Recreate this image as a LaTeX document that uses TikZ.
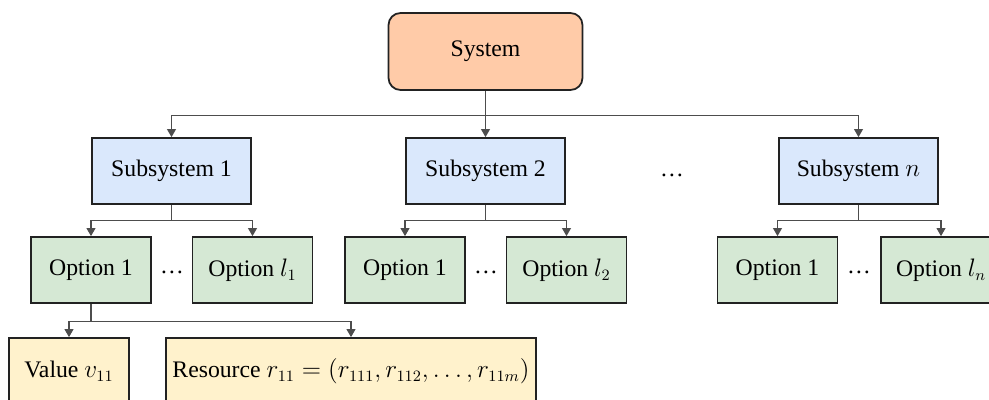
\documentclass[tikz,border=0pt]{standalone}
\usepackage{fontspec}
\setmainfont{Liberation Serif}
\usetikzlibrary{arrows.meta}
\definecolor{sysfill}{HTML}{FFCBA8}
\definecolor{subfill}{HTML}{DAE8FC}
\definecolor{optfill}{HTML}{D5E8D4}
\definecolor{valfill}{HTML}{FFF2CC}
\definecolor{boxline}{HTML}{222222}
\definecolor{linkline}{HTML}{4D4D4D}
\tikzset{
  box/.style={draw=boxline, line width=1pt, minimum height=1.32cm, inner sep=0pt,
    font=\fontsize{13.5}{16}\selectfont},
  sysbox/.style={box, fill=sysfill, rounded corners=0.24cm, minimum width=3.88cm, minimum height=1.54cm},
  subbox/.style={box, fill=subfill, minimum width=3.18cm},
  optbox/.style={box, fill=optfill, minimum width=2.4cm},
  valbox/.style={box, fill=valfill},
  link/.style={draw=linkline, line width=0.6pt, -{Triangle[width=5pt,length=4.5pt]}},
  dots/.style={font=\fontsize{13.5}{16}\selectfont},
}
\begin{document}
\begin{tikzpicture}[x=0.02cm, y=-0.02cm]
\clip (0,0) rectangle (989,399);
% top level
\node[sysbox] (sys) at (485.5,51.5) {System};
\node[subbox] (sub1) at (171.5,171) {Subsystem 1};
\node[subbox] (sub2) at (485.5,171) {Subsystem 2};
\node[subbox] (subn) at (858.5,171) {Subsystem $n$};
\node[dots] (dtop) at (672,175) {…};
% options
\node[optbox] (opt11) at (91,270) {Option 1};
\node[optbox] (opt1l) at (252.5,270) {Option $l_1$};
\node[optbox] (opt21) at (405,270) {Option 1};
\node[optbox] (opt2l) at (566.5,270) {Option $l_2$};
\node[optbox] (optn1) at (777.5,270) {Option 1};
\node[optbox] (optnl) at (941,270) {Option $l_n$};
\node[dots] (d1) at (172,272) {…};
\node[dots] (d2) at (486,272) {…};
\node[dots] (dn) at (859,272) {…};
% value and resource
\node[valbox, minimum width=2.4cm] (val) at (69,371) {Value $v_{11}$};
\node[valbox, minimum width=7.4cm] (res) at (351,371) {Resource $r_{11}=(r_{111},r_{112},\ldots,r_{11m})$};
% connectors
\draw[link] (sys.south) -- ++(0,25) -| (sub1.north);
\draw[link] (sys.south) -- (sub2.north);
\draw[link] (sys.south) -- ++(0,25) -| (subn.north);
\draw[link] (sub1.south) -- ++(0,16) -| (opt11.north);
\draw[link] (sub1.south) -- ++(0,16) -| (opt1l.north);
\draw[link] (sub2.south) -- ++(0,16) -| (opt21.north);
\draw[link] (sub2.south) -- ++(0,16) -| (opt2l.north);
\draw[link] (subn.south) -- ++(0,16) -| (optn1.north);
\draw[link] (subn.south) -- ++(0,16) -| (optnl.north);
\draw[link] (opt11.south) -- ++(0,18) -| (val.north);
\draw[link] (opt11.south) -- ++(0,18) -| (res.north);
\end{tikzpicture}
\end{document}
